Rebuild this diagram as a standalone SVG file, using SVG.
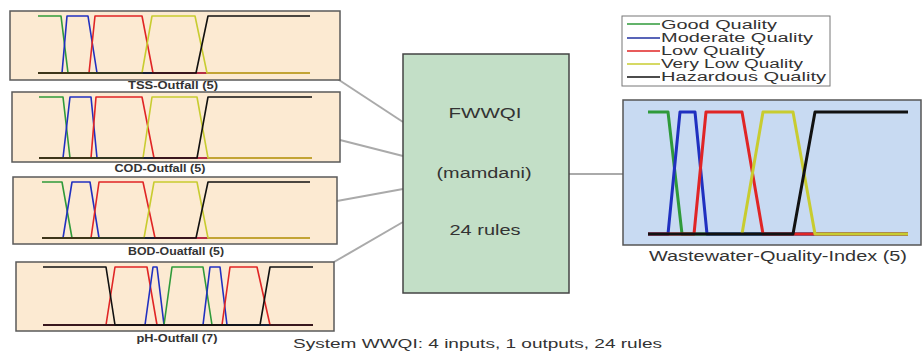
<svg xmlns="http://www.w3.org/2000/svg" width="923" height="354" viewBox="0 0 923 354">
<style>
text{font-family:"Liberation Sans",Arial,sans-serif;fill:#333}
.panel{fill:#fcead2;stroke:#5a5a5a;stroke-width:1.5}
.lbl{font-size:10px;font-weight:bold;text-anchor:middle}
.mf{fill:none;stroke-width:1.6;stroke-linejoin:round}
.omf{fill:none;stroke-width:3;stroke-linejoin:round}
.g{stroke:#2f9a3a}.b{stroke:#2030c0}.r{stroke:#e02525}.y{stroke:#c8cc30}.k{stroke:#111}
.conn{stroke:#aaaaaa;stroke-width:2;fill:none}
.big{font-size:14px;text-anchor:middle}
.leg{font-size:12px}
</style>
<g id="connectors">
<line class="conn" x1="336" y1="78" x2="403" y2="122"/>
<line class="conn" x1="340" y1="140" x2="403" y2="156"/>
<line class="conn" x1="337" y1="201" x2="403" y2="189"/>
<line class="conn" x1="334" y1="262" x2="403" y2="222"/>
<line class="conn" x1="569" y1="174" x2="623" y2="174"/>
</g>
<g id="tss">
<rect class="panel" x="10" y="11" width="330" height="69"/>
<polyline class="mf g" points="38,16 61,16 68,73 310,73"/>
<polyline class="mf b" points="38,73 62,73 67,16 88,16 97,73 310,73"/>
<polyline class="mf r" points="38,73 89,73 95,16 142,16 153,73 310,73"/>
<polyline class="mf y" points="38,73 142,73 152,16 195,16 207,73 310,73"/>
<polyline class="mf k" points="38,73 196,73 208,16 310,16"/>
<text class="lbl" x="173" y="89" textLength="90" lengthAdjust="spacingAndGlyphs">TSS-Outfall (5)</text>
</g>
<g id="cod">
<rect class="panel" x="12" y="92" width="328" height="70"/>
<polyline class="mf g" points="39,97 63,97 70,158 312,158"/>
<polyline class="mf b" points="39,158 63,158 70,97 91,97 97,158 312,158"/>
<polyline class="mf r" points="39,158 91,158 96,97 142,97 154,158 312,158"/>
<polyline class="mf y" points="39,158 143,158 152,97 197,97 208,158 312,158"/>
<polyline class="mf k" points="39,158 197,158 208,97 312,97"/>
<text class="lbl" x="160" y="172" textLength="91" lengthAdjust="spacingAndGlyphs">COD-Outfall (5)</text>
</g>
<g id="bod">
<rect class="panel" x="13" y="177" width="324" height="67"/>
<polyline class="mf g" points="42,182 62,182 72,238 310,238"/>
<polyline class="mf b" points="42,238 63,238 72,182 90,182 99,238 310,238"/>
<polyline class="mf r" points="42,238 91,238 99,182 143,182 155,238 310,238"/>
<polyline class="mf y" points="42,238 144,238 154,182 197,182 208,238 310,238"/>
<polyline class="mf k" points="42,238 196,238 208,182 310,182"/>
<text class="lbl" x="176" y="255" textLength="96" lengthAdjust="spacingAndGlyphs">BOD-Ouatfall (5)</text>
</g>
<g id="ph">
<rect class="panel" x="16" y="262" width="318" height="69"/>
<polyline class="mf r" points="43,325 106,325 115,267 147,267 157,325 313,325"/>
<polyline class="mf b" points="43,325 145,325 153,267 157,267 164,325 313,325"/>
<polyline class="mf g" points="43,325 164,325 172,267 203,267 212,325 313,325"/>
<polyline class="mf b" points="43,325 203,325 210,267 220,267 227,325 313,325"/>
<polyline class="mf r" points="43,325 222,325 230,267 257,267 270,325 313,325"/>
<polyline class="mf k" points="43,267 106,267 115,325 313,325"/>
<polyline class="mf k" points="43,325 260,325 270,267 313,267"/>
<text class="lbl" x="177" y="342" textLength="81" lengthAdjust="spacingAndGlyphs">pH-Outfall (7)</text>
</g>
<g id="fis">
<rect x="403" y="54" width="166" height="239" fill="#c3dfc7" stroke="#444" stroke-width="1.5"/>
<text class="big" x="485" y="118" textLength="73" lengthAdjust="spacingAndGlyphs">FWWQI</text>
<text class="big" x="484" y="178" textLength="95" lengthAdjust="spacingAndGlyphs">(mamdani)</text>
<text class="big" x="485" y="235" textLength="71" lengthAdjust="spacingAndGlyphs">24 rules</text>
</g>
<g id="legend">
<rect x="622" y="16" width="208" height="70" fill="#fff" stroke="#777" stroke-width="1"/>
<line x1="627" y1="24" x2="660" y2="24" stroke="#2f9a3a" stroke-width="1.5"/>
<line x1="627" y1="38" x2="660" y2="38" stroke="#2030a0" stroke-width="1.5"/>
<line x1="627" y1="51" x2="660" y2="51" stroke="#e02525" stroke-width="1.5"/>
<line x1="627" y1="64" x2="660" y2="64" stroke="#c8cc30" stroke-width="1.5"/>
<line x1="627" y1="77" x2="660" y2="77" stroke="#111" stroke-width="1.5"/>
<text class="leg" x="661" y="29" textLength="116" lengthAdjust="spacingAndGlyphs">Good Quality</text>
<text class="leg" x="661" y="42" textLength="152" lengthAdjust="spacingAndGlyphs">Moderate Quality</text>
<text class="leg" x="661" y="55" textLength="104" lengthAdjust="spacingAndGlyphs">Low Quality</text>
<text class="leg" x="661" y="68" textLength="142" lengthAdjust="spacingAndGlyphs">Very Low Quality</text>
<text class="leg" x="661" y="81" textLength="165" lengthAdjust="spacingAndGlyphs">Hazardous Quality</text>
</g>
<g id="output">
<rect x="623" y="100" width="298" height="145" fill="#c8daf2" stroke="#555" stroke-width="1.5"/>
<polyline class="omf g" points="648,112 668,112 682,234 908,234"/>
<polyline class="omf b" points="648,234 668,234 680,112 695,112 707,234 908,234"/>
<polyline class="omf r" points="648,234 694,234 706,112 742,112 763,234 908,234"/>
<polyline class="omf y" points="742,234 763,112 793,112 815,234 908,234"/>
<polyline class="omf k" points="648,234 793,234 815,112 908,112"/>
<text x="778" y="261" font-size="14" text-anchor="middle" textLength="258" lengthAdjust="spacingAndGlyphs">Wastewater-Quality-Index (5)</text>
</g>
<g id="caption">
<text x="293" y="348" font-size="12" textLength="369" lengthAdjust="spacingAndGlyphs">System WWQI: 4 inputs, 1 outputs, 24 rules</text>
</g>
</svg>
